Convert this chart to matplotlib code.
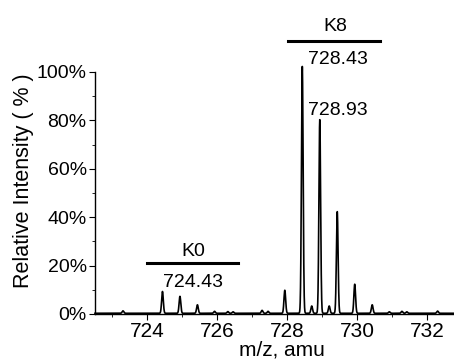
import numpy as np
import matplotlib
matplotlib.use("Agg")
import matplotlib.pyplot as plt
from matplotlib.ticker import MultipleLocator, FuncFormatter

# Peak centres (m/z) and relative heights (%)
peak_mz = [723.30, 724.43, 724.93, 725.43, 725.92, 726.30, 726.45, 727.28, 727.45,
           727.93, 728.43, 728.70, 728.93, 729.20, 729.43, 729.93, 730.43, 730.92,
           731.28, 731.42, 732.30]
peak_int = [1.0, 9.0, 7.0, 3.5, 0.8, 0.7, 0.6, 1.2, 0.8,
            9.5, 102.0, 3.0, 80.0, 3.0, 42.0, 12.0, 3.5, 0.6,
            0.8, 0.6, 0.9]

x_ticks = [724, 726, 728, 730, 732]
y_ticks = [0, 20, 40, 60, 80, 100]

plt.rcParams['font.family'] = ['Liberation Sans', 'DejaVu Sans']
fs = 14

fig = plt.figure(figsize=(4.54, 3.64), dpi=100)
ax = fig.add_axes([95/454, 50/364, (454-95)/454, 242/364])

mz = np.linspace(722.5, 732.8, 6000)
sigma = 0.024
spec = np.zeros_like(mz) + 0.3
for c, h in zip(peak_mz, peak_int):
    spec += h * np.exp(-0.5 * ((mz - c) / sigma) ** 2)

ax.plot(mz, spec, color='black', lw=1.2, clip_on=False)
ax.set_xlim(722.5, 732.77)
ax.set_ylim(0, 100)

for s in ['top', 'right']:
    ax.spines[s].set_visible(False)
ax.spines['left'].set_linewidth(1.0)
ax.spines['bottom'].set_linewidth(1.0)

ax.set_xticks(x_ticks)
ax.set_yticks(y_ticks)
ax.xaxis.set_minor_locator(MultipleLocator(1))
ax.yaxis.set_minor_locator(MultipleLocator(10))
ax.yaxis.set_major_formatter(FuncFormatter(lambda v, p: f"{int(v)}%"))
ax.tick_params(axis='y', which='major', labelsize=fs, length=4, width=0.8, pad=2)
ax.tick_params(axis='x', which='major', labelsize=15, length=4, width=0.8, pad=2)
ax.tick_params(axis='both', which='minor', length=2, width=0.6)
ax.set_xlabel('m/z, amu', fontsize=15, labelpad=0)
ax.xaxis.set_label_coords(0.521, -0.108, transform=ax.transAxes)
ax.xaxis.label.set_va('top')
ax.set_ylabel('Relative Intensity ( % )', fontsize=15.5)
ax.yaxis.set_label_coords(24/454, (364-181)/364, transform=fig.transFigure)
ax.yaxis.label.set_va('center')

# Annotations
ax.plot([728.01, 730.64], [113, 113], color='black', lw=2.2, clip_on=False)
ax.text(729.37, 119, 'K8', ha='center', va='center', fontsize=fs, clip_on=False)
ax.text(729.45, 105, '728.43', ha='center', va='center', fontsize=fs, clip_on=False)
ax.text(729.45, 84, '728.93', ha='center', va='center', fontsize=fs, clip_on=False)
ax.plot([723.99, 726.6], [21, 21], color='black', lw=2.2, clip_on=False)
ax.text(725.3, 25.8, 'K0', ha='center', va='center', fontsize=fs, clip_on=False)
ax.text(725.3, 13, '724.43', ha='center', va='center', fontsize=fs, clip_on=False)

fig.savefig('out.png', dpi=100)
